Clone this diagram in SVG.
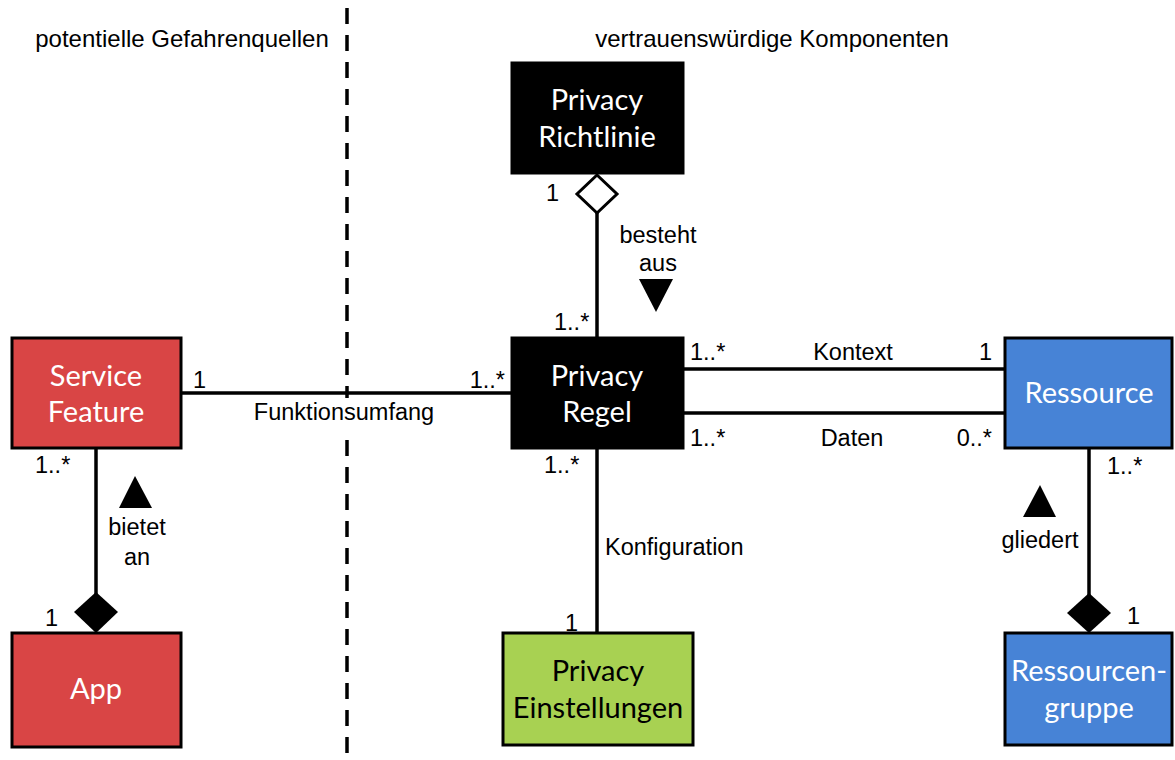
<svg xmlns="http://www.w3.org/2000/svg" width="1175" height="760" viewBox="0 0 1175 760">
  <style>
    .box { stroke: #000; stroke-width: 3; }
    .black { fill: #000; }
    .red { fill: #D94545; }
    .blue { fill: #4783D6; }
    .green { fill: #A8D152; }
    .name { font-family: Lato, "Open Sans", sans-serif; font-size: 29px; text-anchor: middle; fill: #fff; }
    .name.dark { fill: #000; }
    .lbl { font-family: "Liberation Sans", Arial, sans-serif; font-size: 23.5px; fill: #000; }
    .head { font-family: "Liberation Sans", Arial, sans-serif; font-size: 24px; fill: #000; text-anchor: middle; }
    .mid { text-anchor: middle; }
    .end { text-anchor: end; }
    .line { stroke: #000; stroke-width: 3.5; fill: none; }
  </style>

  <!-- boundary between the two zones -->
  <line x1="347" y1="8" x2="347" y2="760" stroke="#000" stroke-width="3.5" stroke-dasharray="16 11"/>
  <text class="head" x="182" y="47">potentielle Gefahrenquellen</text>
  <text class="head" x="772" y="47">vertrauenswürdige Komponenten</text>

  <g id="connectors">
    <!-- Service Feature — Privacy Regel -->
    <line class="line" x1="181" y1="393" x2="512" y2="393"/>
    <text class="lbl" x="193" y="388">1</text>
    <text class="lbl end" x="505" y="388">1..*</text>
    <rect x="250" y="398" width="190" height="32" fill="#fff"/>
    <text class="lbl mid" x="344" y="420">Funktionsumfang</text>

    <!-- Privacy Richtlinie ◇— Privacy Regel -->
    <line class="line" x1="597" y1="212" x2="597" y2="338"/>
    <polygon points="597,175 617,194 597,213 577,194" fill="#fff" stroke="#000" stroke-width="3"/>
    <text class="lbl" x="546" y="201">1</text>
    <text class="lbl" x="554" y="330">1..*</text>
    <text class="lbl mid" x="658" y="243">besteht</text>
    <text class="lbl mid" x="658" y="271">aus</text>
    <polygon points="639,279 673,279 656,312" fill="#000"/>

    <!-- Privacy Regel — Ressource (Kontext / Daten) -->
    <line class="line" x1="683" y1="369" x2="1005" y2="369"/>
    <line class="line" x1="683" y1="413" x2="1005" y2="413"/>
    <text class="lbl" x="690" y="360">1..*</text>
    <text class="lbl mid" x="853" y="360">Kontext</text>
    <text class="lbl end" x="992" y="360">1</text>
    <text class="lbl" x="690" y="446">1..*</text>
    <text class="lbl mid" x="852" y="446">Daten</text>
    <text class="lbl end" x="992" y="446">0..*</text>

    <!-- Privacy Regel — Privacy Einstellungen -->
    <line class="line" x1="597" y1="448" x2="597" y2="633"/>
    <text class="lbl" x="544" y="473">1..*</text>
    <text class="lbl" x="605" y="555">Konfiguration</text>
    <text class="lbl" x="565" y="631">1</text>

    <!-- App ◆— Service Feature -->
    <line class="line" x1="96" y1="448" x2="96" y2="600"/>
    <polygon points="96,592 118,612 96,633 74,612" fill="#000"/>
    <text class="lbl" x="35" y="473">1..*</text>
    <text class="lbl" x="45" y="626">1</text>
    <polygon points="135,476 152,508 119,508" fill="#000"/>
    <text class="lbl mid" x="137" y="535">bietet</text>
    <text class="lbl mid" x="137" y="565">an</text>

    <!-- Ressourcengruppe ◆— Ressource -->
    <line class="line" x1="1089" y1="448" x2="1089" y2="600"/>
    <polygon points="1089,593 1111,613 1089,633 1067,613" fill="#000"/>
    <text class="lbl" x="1107" y="474">1..*</text>
    <text class="lbl" x="1127" y="624">1</text>
    <polygon points="1040,485 1056,517 1023,517" fill="#000"/>
    <text class="lbl mid" x="1040" y="548">gliedert</text>
  </g>

  <g id="service-feature">
    <rect class="box red" x="12" y="338" width="169" height="110"/>
    <text class="name" x="96" y="386">Service</text>
    <text class="name" x="96" y="422">Feature</text>
  </g>

  <g id="app">
    <rect class="box red" x="12" y="633" width="169" height="114"/>
    <text class="name" x="96" y="699">App</text>
  </g>

  <g id="privacy-richtlinie">
    <rect class="box black" x="512" y="63" width="171" height="110"/>
    <text class="name" x="597" y="110">Privacy</text>
    <text class="name" x="597" y="147">Richtlinie</text>
  </g>

  <g id="privacy-regel">
    <rect class="box black" x="512" y="338" width="171" height="110"/>
    <text class="name" x="597" y="386">Privacy</text>
    <text class="name" x="597" y="422">Regel</text>
  </g>

  <g id="privacy-einstellungen">
    <rect class="box green" x="503" y="633" width="190" height="112"/>
    <text class="name dark" x="598" y="681">Privacy</text>
    <text class="name dark" x="598" y="718">Einstellungen</text>
  </g>

  <g id="ressource">
    <rect class="box blue" x="1005" y="338" width="167" height="110"/>
    <text class="name" x="1089" y="403">Ressource</text>
  </g>

  <g id="ressourcengruppe">
    <rect class="box blue" x="1005" y="633" width="167" height="112"/>
    <text class="name" x="1089" y="681">Ressourcen-</text>
    <text class="name" x="1089" y="718">gruppe</text>
  </g>
</svg>
